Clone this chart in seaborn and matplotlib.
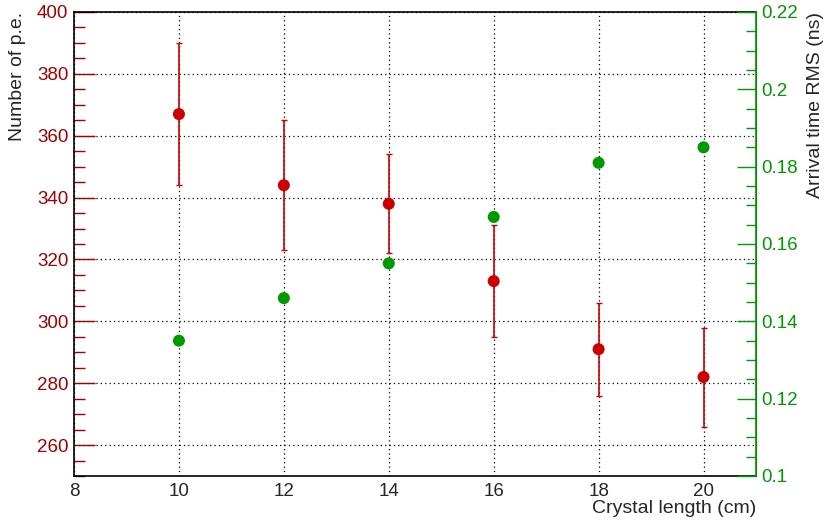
import matplotlib
matplotlib.use('Agg')
import matplotlib.pyplot as plt
import seaborn as sns
import pandas as pd
from matplotlib.ticker import MultipleLocator

# data
length_cm = [10, 12, 14, 16, 18, 20]
npe = [367, 344, 338, 313, 291, 282]
npe_err_up = [23, 21, 16, 18, 15, 16]
npe_err_down = [23, 21, 16, 18, 15, 16]
rms_ns = [0.135, 0.146, 0.155, 0.167, 0.181, 0.185]

red = '#cc0000'
red_dark = '#a00000'
green = '#009900'

sns.set_style('white')
plt.rcParams['font.family'] = ['Liberation Sans', 'DejaVu Sans']

df = pd.DataFrame({'length': length_cm, 'npe': npe, 'rms': rms_ns})

fig = plt.figure(figsize=(8.31, 5.28), dpi=100)
ax = fig.add_axes([74 / 831, 1 - 476 / 528, (756 - 74) / 831, (476 - 12) / 528])

# grid first so it sits under the points
ax.set_axisbelow(True)
ax.grid(True, which='major', color='black', linestyle=(0, (1, 2.5)), linewidth=0.9)

ax.errorbar(df['length'], df['npe'], yerr=[npe_err_down, npe_err_up], fmt='none',
            ecolor=red, elinewidth=1.2, capsize=2.5, capthick=1.0, zorder=3)
sns.scatterplot(data=df, x='length', y='npe', ax=ax, color=red, s=75,
                edgecolor='none', zorder=4, legend=False)

ax.set_xlim(8, 21)
ax.set_ylim(250, 400)
ax.xaxis.set_major_locator(MultipleLocator(2))
ax.xaxis.set_minor_locator(MultipleLocator(0.5))
ax.yaxis.set_major_locator(MultipleLocator(20))
ax.yaxis.set_minor_locator(MultipleLocator(5))

ax.tick_params(axis='x', which='major', direction='in', length=10, width=1,
               color='black', labelsize=13.5, pad=5, top=False)
ax.tick_params(axis='x', which='minor', direction='in', length=5, width=1,
               color='black', top=False)
ax.tick_params(axis='y', which='major', direction='in', length=15, width=1,
               color=red_dark, labelcolor=red_dark, labelsize=13.5, pad=4, right=False)
ax.tick_params(axis='y', which='minor', direction='in', length=8, width=1,
               color=red_dark, right=False)

ax.set_xlabel('Crystal length (cm)', loc='right', fontsize=14, labelpad=0)
ax.set_ylabel('Number of p.e.', loc='top', fontsize=14, labelpad=8)

for side in ['left', 'bottom', 'top']:
    ax.spines[side].set_color('black')
    ax.spines[side].set_linewidth(1.2)

ax2 = ax.twinx()
sns.scatterplot(data=df, x='length', y='rms', ax=ax2, color=green, s=75,
                edgecolor='none', zorder=4, legend=False)
ax2.set_ylim(0.1, 0.22)
ax2.yaxis.set_major_locator(MultipleLocator(0.02))
ax2.yaxis.set_minor_locator(MultipleLocator(0.005))
ax2.yaxis.set_major_formatter(matplotlib.ticker.FuncFormatter(lambda v, p: f'{v:g}'))
ax2.tick_params(axis='y', which='major', direction='in', length=14, width=1,
                color=green, labelcolor=green, labelsize=13.5, pad=4)
ax2.tick_params(axis='y', which='minor', direction='in', length=7, width=1, color=green)
ax2.set_ylabel('Arrival time RMS (ns)', loc='top', fontsize=14, labelpad=6)
ax2.spines['right'].set_color(green)
ax2.spines['right'].set_linewidth(1.2)
ax2.spines['left'].set_visible(False)
ax2.spines['top'].set_visible(False)
ax2.spines['bottom'].set_visible(False)
ax2.grid(False)

fig.savefig('out.png', dpi=100)
